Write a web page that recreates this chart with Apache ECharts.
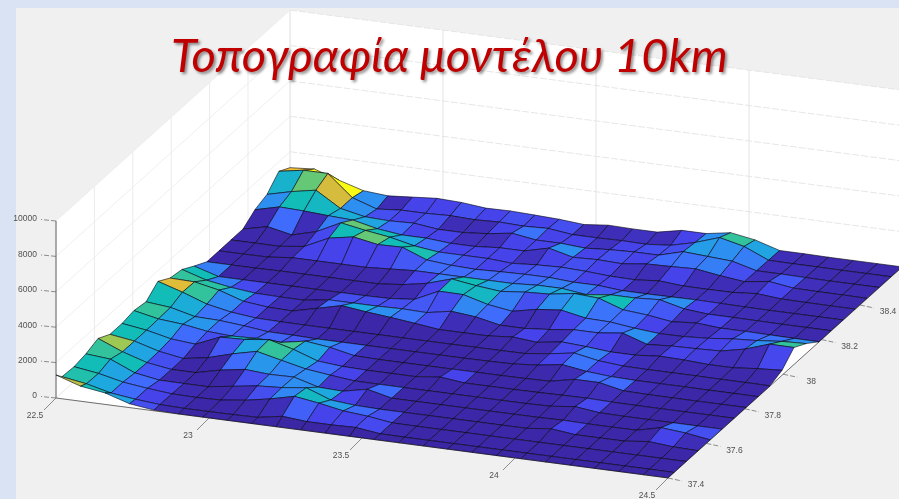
<!DOCTYPE html>
<html><head><meta charset="utf-8">
<script src="https://cdn.jsdelivr.net/npm/echarts@6/dist/echarts.min.js"></script>
<style>html,body{margin:0;padding:0;background:#dae3f3}#c{width:899px;height:499px}</style>
</head><body><div id="c"></div>
<script>
const titleText = 'Τοπογραφία μοντέλου 10km';
const lonNodes = [22.5,22.58,22.66,22.74,22.82,22.9,22.98,23.06,23.14,23.22,23.3,23.38,23.46,23.54,23.62,23.7,23.78,23.86,23.94,24.02,24.1,24.18,24.26,24.34,24.42,24.5];
const latNodes = [37.4,37.431,37.494,37.556,37.619,37.681,37.744,37.806,37.869,37.931,37.994,38.056,38.119,38.186,38.249,38.311,38.374,38.436,38.499,38.561,38.619];
const lonTicks = [22.5,23,23.5,24,24.5];
const lonTickLabels = ['22.5','23','23.5','24','24.5'];
const latTicks = [37.4,37.6,37.8,38,38.2,38.4];
const latTickLabels = ['37.4','37.6','37.8','38','38.2','38.4'];
const zTicks = [0,2000,4000,6000,8000,10000];
const zTickLabels = ['0','2000','4000','6000','8000','10000'];
// elevation (m); first row = southernmost latitude, each row runs west to east
const elevation = [
[1300,850,650,220,40,10,10,10,10,10,10,10,10,10,10,10,10,10,10,10,10,10,10,10,10,10],
[900,680,340,170,50,15,15,25,50,290,170,170,200,25,15,15,15,15,15,15,15,15,15,15,15,10],
[850,650,340,170,40,15,50,220,475,800,600,340,220,25,15,15,15,15,15,15,15,15,15,15,15,15],
[970,850,255,25,15,15,220,425,510,680,170,50,15,15,15,15,15,15,15,170,15,15,15,170,50,15],
[1225,650,220,15,15,340,560,460,490,100,50,340,15,15,15,15,15,15,15,40,15,15,15,340,220,15],
[850,650,255,25,255,650,970,650,340,170,25,15,15,15,15,15,15,15,40,200,35,15,15,15,15,15],
[850,650,340,220,800,850,1020,650,170,50,15,15,15,170,15,15,15,25,50,60,25,15,15,15,15,15],
[970,680,560,340,255,305,255,510,340,50,15,15,15,15,15,15,25,50,340,340,50,25,15,15,15,15],
[850,715,375,340,220,60,50,15,15,15,15,15,15,15,25,50,170,375,170,60,25,25,25,15,15,15],
[1400,970,475,200,50,25,15,15,15,15,15,15,15,25,25,35,200,425,170,50,35,35,35,25,25,15],
[970,935,650,200,50,15,340,680,510,375,220,50,50,50,170,50,255,170,50,50,170,140,60,60,190,280],
[850,425,200,50,25,15,220,220,220,255,220,475,340,50,50,170,340,340,510,50,140,170,220,510,970,960],
[425,15,15,15,15,15,15,15,40,170,815,800,425,220,510,650,375,340,170,50,60,140,290,375,510,565],
[15,15,15,35,35,35,35,35,170,425,850,650,510,650,715,935,850,375,255,60,170,60,60,40,25,15],
[15,15,25,170,170,170,170,255,340,340,340,340,340,425,425,255,425,425,510,170,50,50,40,25,25,25],
[25,25,25,200,850,1100,850,880,340,220,170,220,255,255,170,170,50,50,60,75,60,35,25,25,25,25],
[25,340,50,425,1100,850,650,340,170,170,170,75,170,220,170,75,50,170,60,50,60,170,50,35,25,25],
[510,850,800,715,650,340,170,170,60,60,170,170,510,170,220,170,340,375,425,220,60,255,60,40,35,25],
[760,1100,1360,510,220,170,220,50,50,170,375,170,170,75,170,220,220,600,510,425,60,60,40,25,25,25],
[1460,1700,1700,510,50,170,170,220,170,220,170,220,50,50,75,50,170,510,970,650,50,35,35,25,25,25],
[1100,1200,750,340,230,340,450,400,260,280,230,170,60,200,170,170,450,450,680,450,35,35,15,15,15,15]
];
const colorMax = 1700;
const parula = ['#3A24A0','#4743EB','#3F6CFC','#2D8FF0','#1DA9DF','#12BDB8','#40C690','#8FCB5A','#D6BC3C','#FFC130','#F9FB15'];

// fixed oblique view of the MATLAB axes box
const lonMin=22.5, lonMax=24.5, latMin=37.4, latMax=38.619, zMax=10000;
function view(lon,lat,z){
  return [56+(lon-lonMin)*306+(lat-latMin)*192, 398+(lon-lonMin)*40-(lat-latMin)*173-z*0.0177];
}

const faces=[];
for(let r=latNodes.length-2;r>=0;r--) for(let i=0;i<lonNodes.length-1;i++) faces.push([i,r]);

function poly(api,pts,style){
  return {type:'polygon',shape:{points:pts.map(p=>api.coord(p))},style:style};
}
function seg(api,a,b,stroke,w,dash){
  const p=api.coord(a),q=api.coord(b);
  return {type:'line',shape:{x1:p[0],y1:p[1],x2:q[0],y2:q[1]},style:{stroke:stroke,lineWidth:w,lineDash:dash||null}};
}
function label(api,p,text,align){
  const c=api.coord(p);
  return {type:'text',x:c[0],y:c[1],style:{text:text,fill:'#505050',font:'8.5px "Liberation Sans", Arial, sans-serif',align:align||'center',verticalAlign:'middle'}};
}

function boxItem(params,api){
  const ch=[];
  const wall={fill:'#ffffff'};
  ch.push(poly(api,[view(lonMin,latMin,0),view(lonMax,latMin,0),view(lonMax,latMax,0),view(lonMin,latMax,0)],wall));
  ch.push(poly(api,[view(lonMin,latMin,0),view(lonMin,latMax,0),view(lonMin,latMax,zMax),view(lonMin,latMin,zMax)],wall));
  ch.push(poly(api,[view(lonMin,latMax,0),view(lonMax,latMax,0),view(lonMax,latMax,zMax),view(lonMin,latMax,zMax)],wall));
  const g='#ebebeb', h='#e3e3e3', dash=[7,2];
  zTicks.forEach(z=>{
    ch.push(seg(api,view(lonMin,latMin,z),view(lonMin,latMax,z),g,0.8));
    ch.push(seg(api,view(lonMin,latMax,z),view(lonMax,latMax,z),h,0.9,dash));
  });
  lonTicks.forEach(x=>{
    ch.push(seg(api,view(x,latMin,0),view(x,latMax,0),g,0.8));
    ch.push(seg(api,view(x,latMax,0),view(x,latMax,zMax),h,1));
  });
  latTicks.forEach(y=>{
    ch.push(seg(api,view(lonMin,y,0),view(lonMax,y,0),g,0.8));
    ch.push(seg(api,view(lonMin,y,0),view(lonMin,y,zMax),g,1));
  });
  ch.push(seg(api,view(lonMin,latMax,0),view(lonMin,latMax,zMax),g,1));
  return {type:'group',children:ch};
}
function axesItem(params,api){
  const ch=[], d='#606060';
  ch.push(seg(api,view(lonMin,latMin,0),view(lonMin,latMin,zMax),d,1));
  ch.push(seg(api,view(lonMin,latMin,0),view(lonMax,latMin,0),d,0.9));
  ch.push(seg(api,view(lonMax,latMin,0),view(lonMax,latMax,0),d,0.9));
  zTicks.forEach((z,k)=>{
    const a=view(lonMin,latMin,z);
    ch.push(seg(api,a,[a[0]-15,a[1]-1.5],d,0.7,[5,2]));
    ch.push(label(api,[a[0]-19,a[1]-2],zTickLabels[k],'right'));
  });
  lonTicks.forEach((x,k)=>{
    const a=view(x,latMin,0);
    ch.push(seg(api,a,[a[0]-12,a[1]+12],d,0.7));
    ch.push(label(api,[a[0]-21,a[1]+18],lonTickLabels[k]));
  });
  latTicks.forEach((y,k)=>{
    const a=view(lonMax,y,0);
    ch.push(seg(api,a,[a[0]+14,a[1]+3],d,0.7,[5,2]));
    ch.push(label(api,[a[0]+28,a[1]+7],latTickLabels[k]));
  });
  return {type:'group',children:ch};
}
function faceItem(params,api){
  const i=api.value(0), r=api.value(1);
  const p=(a,b)=>view(lonNodes[a],latNodes[b],elevation[b][a]);
  return poly(api,[p(i,r),p(i+1,r),p(i+1,r+1),p(i,r+1)],{
    fill:echarts.color.lerp(Math.min(1,elevation[r][i]/colorMax),parula),
    stroke:'#050410',lineWidth:0.6,lineJoin:'round'
  });
}

const chart=echarts.init(document.getElementById('c'),null,{renderer:'canvas'});
chart.setOption({
  animation:false,
  backgroundColor:'#dae3f3',
  graphic:[{type:'rect',z:-1,silent:true,shape:{x:16,y:8,width:883,height:491},style:{fill:'#f0f0f0'}}],
  title:{text:titleText,left:166,top:28,z:20,textStyle:{
    color:'#c00000',fontFamily:'Lato, "Noto Sans"',fontStyle:'italic',fontWeight:'normal',fontSize:47,
    textShadowColor:'rgba(0,0,0,0.45)',textShadowBlur:3,textShadowOffsetX:2,textShadowOffsetY:2}},
  grid:{left:0,right:0,top:0,bottom:0},
  xAxis:{type:'value',min:0,max:899,show:false},
  yAxis:{type:'value',min:0,max:499,inverse:true,show:false},
  series:[
    {type:'custom',silent:true,clip:false,z:2,data:[[0]],renderItem:boxItem},
    {type:'custom',silent:true,clip:false,z:3,data:[[0]],renderItem:axesItem},
    {type:'custom',silent:true,clip:false,z:4,progressive:0,data:faces,renderItem:faceItem}
  ]
});
</script></body></html>
